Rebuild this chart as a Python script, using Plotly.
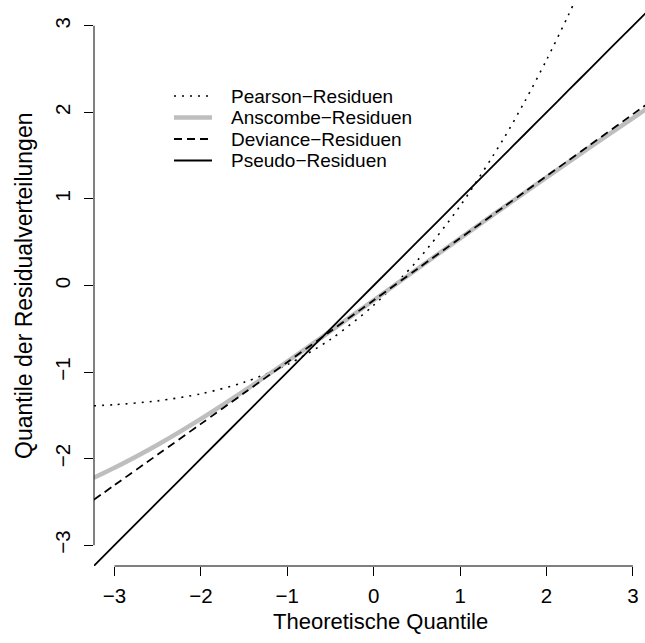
import plotly.graph_objects as go

# Theoretical normal quantiles at which the residual quantiles are evaluated
theo_q = [-3.24, -3.0, -2.5, -2.0, -1.5, -1.0, -0.5, 0.0, 0.5, 1.0, 1.5, 1.75, 2.0, 2.25, 2.5, 3.0, 3.2]

# Quantiles of the residual distributions
pearson = [-1.3895, -1.3768, -1.3323, -1.2515, -1.1177, -0.9134, -0.6218, -0.2275,
           0.2825, 0.9189, 1.6904, 2.1291, 2.6041, 3.1164, 3.6655, 4.8792, 5.4091]
anscombe = [-2.2213, -2.1062, -1.8395, -1.5409, -1.2177, -0.8776, -0.5272, -0.1703,
            0.1877, 0.5448, 0.8990, 1.0746, 1.2491, 1.4225, 1.5944, 1.9345, 2.0693]
deviance = [-2.4754, -2.3061, -1.9530, -1.5984, -1.2425, -0.8858, -0.5283, -0.1704,
            0.1878, 0.5461, 0.9044, 1.0835, 1.2626, 1.4418, 1.6206, 1.9785, 2.1218]
pseudo = [-3.24, -3.0, -2.5, -2.0, -1.5, -1.0, -0.5, 0.0, 0.5, 1.0, 1.5, 1.75, 2.0, 2.25, 2.5, 3.0, 3.2]

legend_labels = ["Pearson\u2212Residuen", "Anscombe\u2212Residuen",
                 "Deviance\u2212Residuen", "Pseudo\u2212Residuen"]
tick_vals = [-3, -2, -1, 0, 1, 2, 3]
tick_text = ["\u22123", "\u22122", "\u22121", "0", "1", "2", "3"]

FONT = "Liberation Sans, Arial, Helvetica, sans-serif"
GRAY = "#bebebe"

# line styles: (color, width, dash)
styles = [
    ("black", 1.6, "2px,6px"),
    (GRAY, 4.5, "solid"),
    ("black", 1.8, "8px,5px"),
    ("black", 1.8, "solid"),
]
series = [pearson, anscombe, deviance, pseudo]

fig = go.Figure()
for vals, (col, w, dash), name in zip(series, styles, legend_labels):
    fig.add_trace(go.Scatter(
        x=theo_q, y=vals, mode="lines", name=name,
        line=dict(color=col, width=w, dash=dash, shape="spline", smoothing=0.8),
        showlegend=False, hoverinfo="skip",
    ))

W, H = 645, 643
ML, MR, MT, MB = 94, 0, 5, 77
PW, PH = W - ML - MR, H - MT - MB


def px_x(px):
    return (px - ML) / PW


def px_y(py):
    return (H - MB - py) / PH


shapes = []
annotations = []

# R-style detached axis lines spanning the tick range only
shapes.append(dict(type="line", xref="x", yref="paper", x0=-3, x1=3, y0=0, y1=0,
                   line=dict(color="black", width=1)))
shapes.append(dict(type="line", xref="paper", yref="y", x0=0, x1=0, y0=-3, y1=3,
                   line=dict(color="black", width=1)))

# Legend
row_y = [96, 117.5, 139, 160.5]
for (col, w, dash), lab, ry in zip(styles, legend_labels, row_y):
    shapes.append(dict(type="line", xref="paper", yref="paper",
                       x0=px_x(174), x1=px_x(212), y0=px_y(ry), y1=px_y(ry),
                       line=dict(color=col, width=w, dash=dash)))
    annotations.append(dict(xref="paper", yref="paper", x=px_x(229), y=px_y(ry),
                            xanchor="left", yanchor="middle", showarrow=False,
                            text=lab, font=dict(family=FONT, size=19, color="black")))

# Axis titles
annotations.append(dict(xref="paper", yref="paper", x=px_x(380), y=px_y(621),
                        xanchor="center", yanchor="middle", showarrow=False,
                        text="Theoretische Quantile",
                        font=dict(family=FONT, size=22, color="black")))
annotations.append(dict(xref="paper", yref="paper", x=px_x(24), y=px_y(286),
                        xanchor="center", yanchor="middle", showarrow=False,
                        textangle=-90, text="Quantile der Residualverteilungen",
                        font=dict(family=FONT, size=23, color="black")))

unit = 86.4
x0_px = 373.7
fig.update_layout(
    width=W, height=H,
    margin=dict(l=ML, r=MR, t=MT, b=MB, pad=0),
    paper_bgcolor="white", plot_bgcolor="white",
    shapes=shapes, annotations=annotations,
    xaxis=dict(range=[-(x0_px - ML) / unit, (W - x0_px) / unit],
               showgrid=False, zeroline=False, showline=False,
               ticks="outside", ticklen=9, tickwidth=1, tickcolor="black",
               tickvals=tick_vals, ticktext=tick_text, ticklabelstandoff=2,
               tickfont=dict(family=FONT, size=20.5, color="black")),
    yaxis=dict(range=[-3.24, 3.24],
               showgrid=False, zeroline=False, showline=False,
               ticks="outside", ticklen=9, tickwidth=1, tickcolor="black",
               tickvals=tick_vals, ticktext=tick_text, tickangle=-90, ticklabelstandoff=6,
               tickfont=dict(family=FONT, size=20.5, color="black")),
)

fig.write_html("out.html")
